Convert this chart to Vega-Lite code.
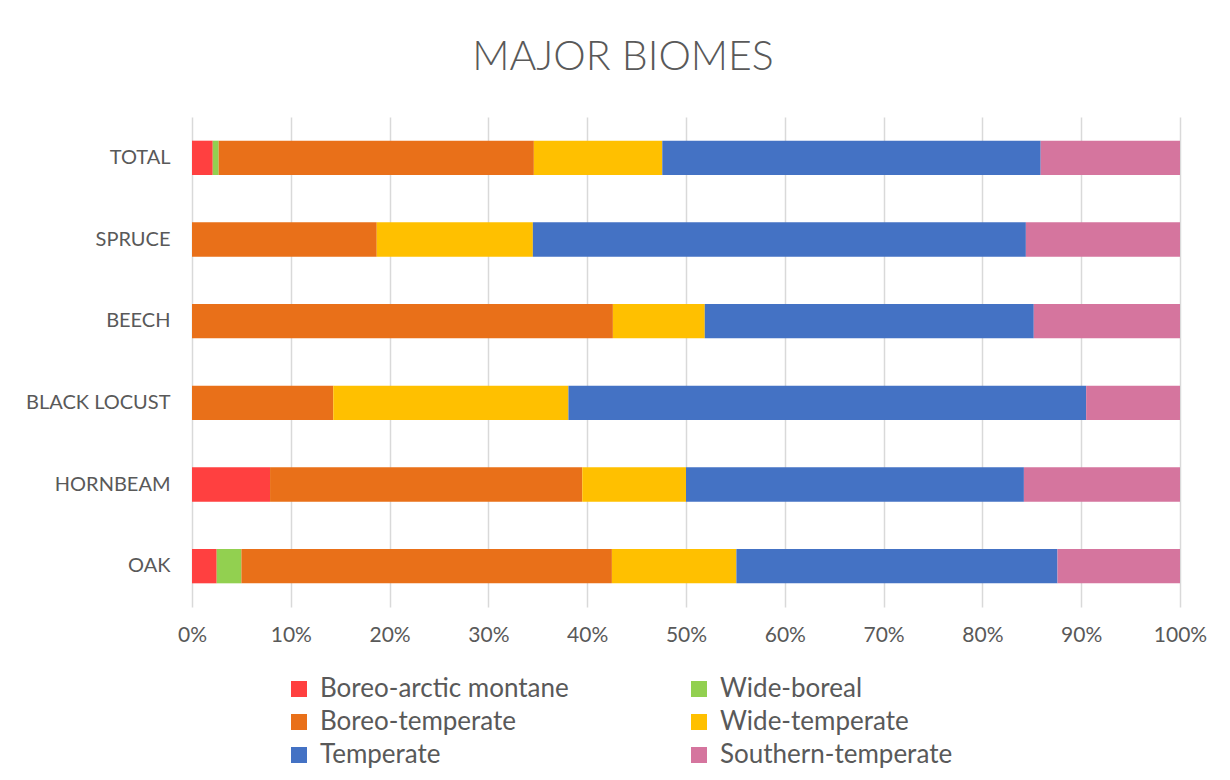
{
  "$schema": "https://vega.github.io/schema/vega-lite/v6.json",
  "autosize": {"type": "none"},
  "width": 988,
  "height": 490,
  "padding": {"left": 192, "top": 117, "right": 50, "bottom": 173},
  "background": "white",
  "title": {
    "text": "MAJOR BIOMES",
    "font": "Lato",
    "fontSize": 41,
    "fontWeight": 300,
    "color": "#595959",
    "anchor": "middle",
    "dx": -63,
    "offset": 38
  },
  "data": {
    "values": [
      {"species": "TOTAL", "biome": "Boreo-arctic montane", "k": 1, "pct": 2.1},
      {"species": "TOTAL", "biome": "Wide-boreal", "k": 2, "pct": 0.6},
      {"species": "TOTAL", "biome": "Boreo-temperate", "k": 3, "pct": 31.9},
      {"species": "TOTAL", "biome": "Wide-temperate", "k": 4, "pct": 13.0},
      {"species": "TOTAL", "biome": "Temperate", "k": 5, "pct": 38.3},
      {"species": "TOTAL", "biome": "Southern-temperate", "k": 6, "pct": 14.1},
      {"species": "SPRUCE", "biome": "Boreo-temperate", "k": 3, "pct": 18.7},
      {"species": "SPRUCE", "biome": "Wide-temperate", "k": 4, "pct": 15.8},
      {"species": "SPRUCE", "biome": "Temperate", "k": 5, "pct": 49.9},
      {"species": "SPRUCE", "biome": "Southern-temperate", "k": 6, "pct": 15.6},
      {"species": "BEECH", "biome": "Boreo-temperate", "k": 3, "pct": 42.6},
      {"species": "BEECH", "biome": "Wide-temperate", "k": 4, "pct": 9.3},
      {"species": "BEECH", "biome": "Temperate", "k": 5, "pct": 33.3},
      {"species": "BEECH", "biome": "Southern-temperate", "k": 6, "pct": 14.8},
      {"species": "BLACK LOCUST", "biome": "Boreo-temperate", "k": 3, "pct": 14.3},
      {"species": "BLACK LOCUST", "biome": "Wide-temperate", "k": 4, "pct": 23.8},
      {"species": "BLACK LOCUST", "biome": "Temperate", "k": 5, "pct": 52.4},
      {"species": "BLACK LOCUST", "biome": "Southern-temperate", "k": 6, "pct": 9.5},
      {"species": "HORNBEAM", "biome": "Boreo-arctic montane", "k": 1, "pct": 7.9},
      {"species": "HORNBEAM", "biome": "Boreo-temperate", "k": 3, "pct": 31.6},
      {"species": "HORNBEAM", "biome": "Wide-temperate", "k": 4, "pct": 10.5},
      {"species": "HORNBEAM", "biome": "Temperate", "k": 5, "pct": 34.2},
      {"species": "HORNBEAM", "biome": "Southern-temperate", "k": 6, "pct": 15.8},
      {"species": "OAK", "biome": "Boreo-arctic montane", "k": 1, "pct": 2.5},
      {"species": "OAK", "biome": "Wide-boreal", "k": 2, "pct": 2.5},
      {"species": "OAK", "biome": "Boreo-temperate", "k": 3, "pct": 37.5},
      {"species": "OAK", "biome": "Wide-temperate", "k": 4, "pct": 12.6},
      {"species": "OAK", "biome": "Temperate", "k": 5, "pct": 32.5},
      {"species": "OAK", "biome": "Southern-temperate", "k": 6, "pct": 12.4}
    ]
  },
  "mark": {"type": "bar"},
  "encoding": {
    "y": {
      "field": "species",
      "type": "nominal",
      "sort": ["TOTAL", "SPRUCE", "BEECH", "BLACK LOCUST", "HORNBEAM", "OAK"],
      "scale": {"paddingInner": 0.58, "paddingOuter": 0.29},
      "axis": {
        "title": null,
        "domain": false,
        "ticks": false,
        "grid": false,
        "labelFont": "Lato",
        "labelFontSize": 20,
        "labelColor": "#595959",
        "labelPadding": 22,
        "labelLimit": 300
      }
    },
    "x": {
      "field": "pct",
      "type": "quantitative",
      "stack": "normalize",
      "scale": {"domain": [0, 1]},
      "axis": {
        "title": null,
        "format": ".0%",
        "values": [0, 0.1, 0.2, 0.3, 0.4, 0.5, 0.6, 0.7, 0.8, 0.9, 1],
        "labelOverlap": false,
        "labelFlush": false,
        "domain": false,
        "ticks": false,
        "grid": true,
        "gridColor": "#D9D9D9",
        "gridWidth": 1.5,
        "labelFont": "Lato",
        "labelFontSize": 21,
        "labelColor": "#595959",
        "labelPadding": 17
      }
    },
    "order": {"field": "k", "type": "quantitative"},
    "color": {
      "field": "biome",
      "type": "nominal",
      "scale": {
        "domain": ["Boreo-arctic montane", "Wide-boreal", "Boreo-temperate", "Wide-temperate", "Temperate", "Southern-temperate"],
        "range": ["#FF4040", "#92D050", "#E97019", "#FFC000", "#4472C4", "#D5759E"]
      },
      "legend": {
        "title": null,
        "orient": "none",
        "direction": "horizontal",
        "legendX": 94,
        "legendY": 559,
        "columns": 2,
        "columnPadding": 117,
        "rowPadding": 7,
        "symbolType": "square",
        "symbolSize": 256,
        "symbolStrokeWidth": 0,
        "labelFont": "Lato",
        "labelFontSize": 26,
        "labelColor": "#595959",
        "labelOffset": 8,
        "labelLimit": 400
      }
    }
  },
  "config": {
    "view": {"stroke": null}
  }
}
